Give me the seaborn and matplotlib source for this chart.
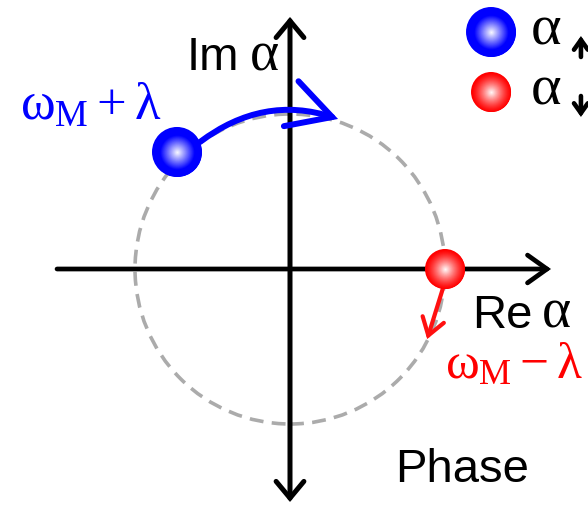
import numpy as np
import pandas as pd
import matplotlib
matplotlib.use("Agg")
import matplotlib.pyplot as plt
from matplotlib.patches import Circle, FancyArrowPatch
import seaborn as sns

# ---- data (unit circle of the phase plane) ----
circle_center = (0.0, 0.0)
circle_radius = 1.0

ball_names = ["up", "down"]
ball_re = [-0.729, 1.0]
ball_im = [0.755, 0.0]
ball_colors = ["#0000ff", "#ff0000"]

legend_re = [1.297, 1.297]
legend_im = [1.529, 1.142]
# spin arrows next to the legend alphas: (x, y_start, y_end)
spin_marks = [(1.877, 1.368, 1.503), (1.877, 1.116, 0.981)]

# motion arrows: (start, end)
up_arrow = [(-0.58, 0.82), (0.31, 0.968)]
down_arrow = [(0.985, -0.13), (0.885, -0.452)]

axis_x = [-1.503, 1.684]
axis_y = [-1.503, 1.626]

freq_labels = [r"$\omega_{M} + \lambda$", r"$\omega_{M} - \lambda$"]

# ---- style ----
sns.set_theme(style="white")
plt.rcParams["font.family"] = ["Liberation Sans", "DejaVu Sans"]
plt.rcParams["mathtext.fontset"] = "custom"
plt.rcParams["mathtext.rm"] = "Liberation Serif"
plt.rcParams["mathtext.it"] = "Liberation Serif"
plt.rcParams["mathtext.bf"] = "Liberation Serif:bold"

SERIF = ["Liberation Serif", "DejaVu Serif"]

fig = plt.figure(figsize=(5.88, 5.06), dpi=100)
ax = fig.add_axes([0, 0, 1, 1])
ax.set_xlim(-290 / 155, 298 / 155)
ax.set_ylim(-236 / 155, 270 / 155)
ax.set_aspect("equal")
ax.axis("off")

# dashed phase circle
lw_c = 2.6
ax.add_patch(Circle(circle_center, circle_radius, fill=False, ec="#ababab",
                    lw=lw_c, linestyle=(0, (10 / lw_c, 6 / lw_c)), zorder=1))

# axes with arrow heads
def arrow(p0, p1, color, lw, hl, hw, rad=0.0, z=2, both=False):
    style = f"<->,head_length={hl},head_width={hw}" if both else f"->,head_length={hl},head_width={hw}"
    a = FancyArrowPatch(p0, p1, arrowstyle=style, color=color, lw=lw,
                        connectionstyle=f"arc3,rad={rad}", mutation_scale=1,
                        shrinkA=0, shrinkB=0, zorder=z, capstyle="round",
                        joinstyle="miter")
    ax.add_patch(a)

arrow((axis_x[0], 0), (axis_x[1], 0), "black", 3.4, 14, 10)
arrow((0, axis_y[0]), (0, axis_y[1]), "black", 3.6, 12, 10, both=True)

# motion arrows
arrow(up_arrow[0], up_arrow[1], "#0000ff", 4.3, 31, 17, rad=-0.26, z=3)
arrow(down_arrow[0], down_arrow[1], "#ff1010", 3.0, 12, 8, z=3)

# shaded balls
df = pd.DataFrame({"re": ball_re + legend_re, "im": ball_im + legend_im,
                   "spin": ball_names * 2,
                   "size": [1296, 830, 1296, 830]})
palette = dict(zip(ball_names, ball_colors))
sns.scatterplot(data=df, x="re", y="im", hue="spin", palette=palette, size="size",
                sizes=(830, 1296), legend=False, linewidth=0, ax=ax, zorder=4)

def shade(x, y, s, base, core, power):
    base = np.array(matplotlib.colors.to_rgb(base))
    n = 40
    for k in range(1, n):
        frac = k / n
        w = np.clip((frac - core) / (1 - core), 0, 1) ** power
        col = base * (1 - w) + np.ones(3) * w
        ax.scatter([x], [y], s=s * (1 - frac) ** 2, color=col, linewidth=0,
                   zorder=5)

for _, r in df.iterrows():
    if r["spin"] == "up":
        shade(r["re"], r["im"], r["size"], ball_colors[0], 0.3, 1.0)
    else:
        shade(r["re"], r["im"], r["size"], ball_colors[1], 0.0, 1.3)

# axis labels: sans-serif words with a serif alpha
ax.text(-0.665, 1.290, "Im", fontsize=34, color="black", va="baseline", ha="left")
ax.text(-0.258, 1.290, "\u03b1", fontsize=40, family=SERIF, color="black",
        va="baseline", ha="left")
ax.text(1.174, -0.374, "Re", fontsize=34, color="black", va="baseline", ha="left")
ax.text(1.627, -0.374, "\u03b1", fontsize=40, family=SERIF, color="black",
        va="baseline", ha="left")
ax.text(0.677, -1.368, "Phase", fontsize=34, color="black", va="baseline", ha="left")

# frequency labels
ax.text(-1.742, 0.968, freq_labels[0], fontsize=38, color="#0000ff", va="baseline", ha="left")
ax.text(1.0, -0.697, freq_labels[1], fontsize=37, color="#ff0000", va="baseline", ha="left")

# legend text: alpha with a spin arrow
for yb, (sx, sy0, sy1) in zip([1.452, 1.065], spin_marks):
    ax.text(1.555, yb, "\u03b1", fontsize=42, family=SERIF, color="black",
            va="baseline", ha="left")
    arrow((sx, sy0), (sx, sy1), "black", 3.3, 7, 5, z=6)

fig.savefig("out.png", dpi=100)
